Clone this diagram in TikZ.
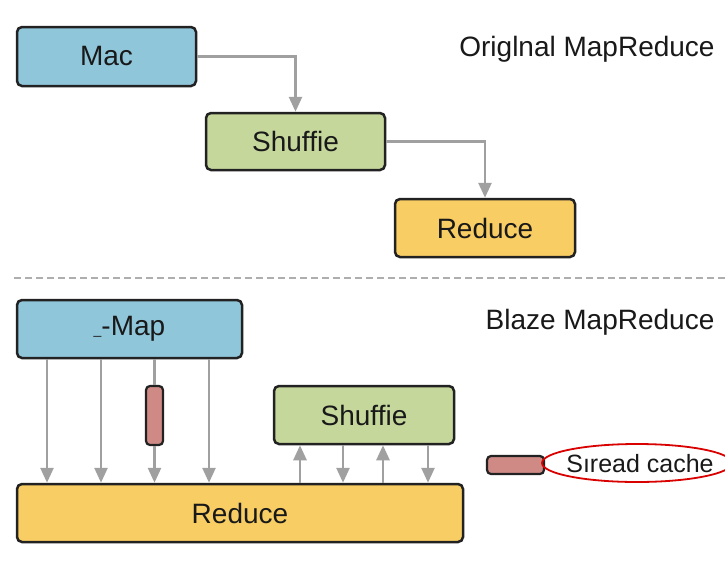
\documentclass[tikz,border=0pt]{standalone}
\usepackage{fontspec}
\setmainfont{Liberation Sans}
\usetikzlibrary{arrows.meta,shapes.geometric}
\definecolor{mapblue}{HTML}{8FC6DA}
\definecolor{shufgreen}{HTML}{C6D79C}
\definecolor{redyellow}{HTML}{F8CD63}
\definecolor{cachered}{HTML}{D08A86}
\definecolor{edgedark}{HTML}{222222}
\definecolor{flowgray}{HTML}{A0A0A0}
\tikzset{
  stage/.style={draw=edgedark, line width=2.5pt, rounded corners=5pt,
    inner sep=0pt, font=\fontsize{28}{32}\selectfont, text=black!90},
  cachebar/.style={draw=edgedark, line width=2.2pt, rounded corners=4pt,
    fill=cachered, inner sep=0pt},
  flow/.style={draw=flowgray, line width=2.6pt,
    -{Triangle[length=15pt,width=13pt]}},
  heading/.style={font=\fontsize{28}{32}\selectfont, text=black!90, inner sep=0pt},
}
\begin{document}
\begin{tikzpicture}[x=1pt,y=-1pt]
\useasboundingbox[fill=white] (0,0) rectangle (725,560);

% original pipeline
\node[stage, fill=mapblue, minimum width=179pt, minimum height=59pt] (mac) at (106.5,56.5) {Mac};
\node[stage, fill=shufgreen, minimum width=179pt, minimum height=57pt] (shufA) at (295.5,141.5) {Shuffie};
\node[stage, fill=redyellow, minimum width=180pt, minimum height=58pt] (redA) at (485,228) {Reduce};
\node[heading] (titleA) at (587,49) {Origlnal MapReduce};

\draw[flow] (mac.east) -| (shufA.north);
\draw[flow] (shufA.east) -| (redA.north);

% separator
\coordinate (sepL) at (14,278);
\coordinate (sepR) at (725,278);
\draw[flowgray!85, line width=2pt, dash pattern=on 7pt off 4pt] (sepL) -- (sepR);

% blaze pipeline
\node[stage, fill=mapblue, minimum width=225pt, minimum height=58pt] (mapB) at (129.5,329) {\raisebox{0.1ex}{\fontsize{14}{14}\selectfont\_}-Map};
\node[stage, fill=redyellow, minimum width=446pt, minimum height=58pt] (redB) at (240,513) {Reduce};
\node[stage, fill=shufgreen, minimum width=180pt, minimum height=58pt] (shufB) at (364,415) {Shuffie};
\node[heading] (titleB) at (600,322) {Blaze MapReduce};
\node[cachebar, minimum width=17pt, minimum height=59pt] (bar) at (154.5,415.5) {};

\draw[flow] (mapB.south -| 47,0) -- (redB.north -| 47,0);
\draw[flow] (mapB.south -| 101,0) -- (redB.north -| 101,0);
\draw[flowgray, line width=2.6pt] (mapB.south -| bar.north) -- (bar.north);
\draw[flow] (bar.south) -- (redB.north -| bar.south);
\draw[flow] (mapB.south -| 209,0) -- (redB.north -| 209,0);

\draw[flow] (redB.north -| 300,0) -- (shufB.south -| 300,0);
\draw[flow] (shufB.south -| 343,0) -- (redB.north -| 343,0);
\draw[flow] (redB.north -| 383,0) -- (shufB.south -| 383,0);
\draw[flow] (shufB.south -| 428,0) -- (redB.north -| 428,0);

% legend
\node[cachebar, minimum width=57pt, minimum height=18pt] (legbox) at (515.5,465) {};
\node[ellipse, draw=red!85!black, line width=1.8pt, minimum width=190pt, minimum height=38pt,
      inner sep=0pt] (legring) at (637,463) {};
\node[font=\fontsize{25}{29}\selectfont, text=black!90, inner sep=0pt] (legtext) at (640,464) {Sıread cache};
\end{tikzpicture}
\end{document}
